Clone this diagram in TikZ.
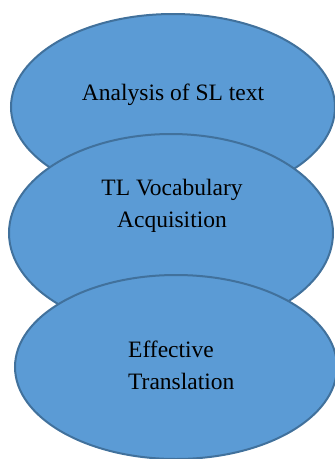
\documentclass[tikz,border=0pt]{standalone}
\usepackage{fontspec}
\setmainfont{Liberation Serif}
\usetikzlibrary{shapes.geometric}
\definecolor{ovalfill}{HTML}{5B9BD5}
\definecolor{ovaledge}{HTML}{41719C}
\tikzset{
  oval/.style={ellipse, draw=ovaledge, fill=ovalfill, line width=2pt, inner sep=0pt},
  label text/.style={inner sep=0pt, font=\fontsize{23.5}{32}\selectfont}
}
\begin{document}
\begin{tikzpicture}[x=1pt,y=-1pt]
\useasboundingbox (0,0) rectangle (335,459);
% stacked ovals, drawn top to bottom so each lower one overlaps the one above
\node[oval, minimum width=324pt, minimum height=186pt] (sl) at (173,107) {};
\node[oval, minimum width=324pt, minimum height=198pt] (tl) at (171,233) {};
\node[oval, minimum width=322pt, minimum height=184pt] (et) at (176,367) {};
% labels (base anchor of a two-line node sits on its last line)
\node[label text, anchor=base] (sltext) at (173,100) {Analysis of SL text};
\node[label text, anchor=base, align=center] (tltext) at (172,227) {TL Vocabulary\\Acquisition};
\node[label text, anchor=base west, align=left] (ettext) at (128,389) {Effective\\Translation};
\end{tikzpicture}
\end{document}
